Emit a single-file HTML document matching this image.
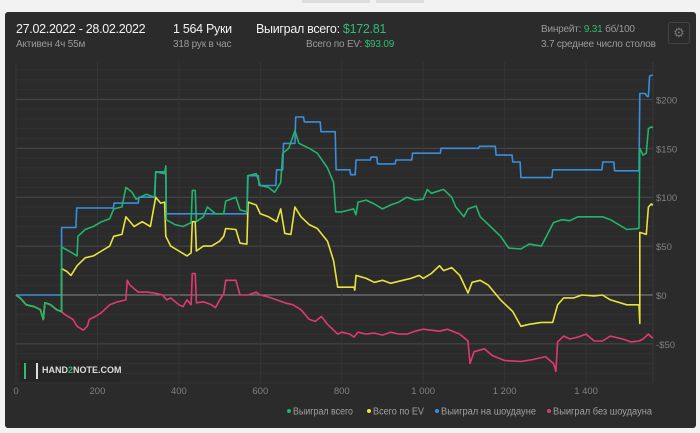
<!DOCTYPE html>
<html><head><meta charset="utf-8"><style>
body{margin:0;width:700px;height:433px;background:#f2f2f2;font-family:"Liberation Sans",sans-serif;overflow:hidden;position:relative}
.card{position:absolute;left:5px;top:12px;width:691px;height:416px;background:#2b2b2b;border-radius:3px}
.t{position:absolute;white-space:nowrap}
.w{color:#f2f2f2;font-size:12.5px;letter-spacing:-0.3px}
.g{color:#9a9a9a;font-size:10px;letter-spacing:-0.2px}
.gr{color:#2ebd75}
</style></head><body>
<div style="position:absolute;left:302px;top:0;width:68px;height:3px;background:#ddd"></div>
<div style="position:absolute;left:376px;top:0;width:48px;height:3px;background:#ddd"></div>
<div class="card"></div>
<div class="t w" style="left:16px;top:22px">27.02.2022 - 28.02.2022</div>
<div class="t g" style="left:16px;top:39px">Активен 4ч 55м</div>
<div class="t w" style="left:173px;top:22px">1 564 Руки</div>
<div class="t g" style="left:173px;top:39px">318 рук в час</div>
<div class="t w" style="left:256px;top:22px">Выиграл всего: <span class="gr">$172.81</span></div>
<div class="t g" style="left:306px;top:39px">Всего по EV: <span class="gr">$93.09</span></div>
<div class="t g" style="left:541px;top:24px">Винрейт: <span class="gr">9.31</span> бб/100</div>
<div class="t g" style="left:541px;top:39px">3.7 среднее число столов</div>
<div style="position:absolute;left:668px;top:22px;width:20px;height:20px;border:1px solid #444;border-radius:3px;color:#777;font-size:13px;text-align:center;line-height:20px">⚙</div>
<svg id="chart" width="700" height="433" style="position:absolute;left:0;top:0"></svg>
<div style="position:absolute;left:20px;top:360px;width:100px;height:22px;background:#262626;border-radius:2px">
<div style="position:absolute;left:4px;top:3px;width:14px;height:16px;border-left:2px solid #2ebd75;border-right:2px solid #ddd;box-sizing:border-box"></div>
<div class="t" style="left:22px;top:5px;color:#ddd;font-size:9px;font-weight:bold">HAND<span class="gr">2</span>NOTE.COM</div></div>
<script>
const xTicks=[0,200,400,600,800,1000,1200,1400];
const xTickLabels=["0","200","400","600","800","1 000","1 200","1 400"];
const yTicks=[-50,0,50,100,150,200];
const yTickLabels=["-$50","$0","$50","$100","$150","$200"];
const seriesNames=["Выиграл всего","Всего по EV","Выиграл на шоудауне","Выиграл без шоудауна"];
const seriesColors=["#22b46c","#e9e43c","#3a8fdc","#dd3b70"];
const blueHands=[0,112,112,147,149,239,241,300,302,341,343,368,369,567,569,595,597,638,640,655,657,685,687,706,708,747,749,784,786,820,822,833,835,870,872,886,888,931,933,972,974,1042,1044,1136,1138,1177,1179,1218,1220,1238,1240,1316,1318,1439,1441,1468,1470,1530,1532,1545,1550,1553,1556,1564];
const blueVals=[0,0,69,69,89,89,94,94,100,100,126,126,83,83,122,122,112,112,128,128,155,155,182,182,177,177,167,167,128,128,123,123,138,138,141,141,134,134,138,138,145,145,150,150,152,152,143,143,136,136,120,120,128,128,136,136,127,127,206,206,203,203,224,225];
const greenHands=[0,10,25,45,60,67,71,85,100,112,112,130,150,152,170,190,210,230,240,260,270,285,295,320,340,343,365,368,369,390,410,430,433,440,443,460,470,490,510,515,540,550,567,570,590,600,620,635,650,655,670,685,695,720,740,765,780,785,800,829,835,840,860,880,900,920,940,960,980,1000,1010,1020,1050,1070,1080,1100,1110,1130,1140,1160,1190,1210,1240,1260,1290,1320,1340,1360,1380,1420,1440,1460,1500,1530,1532,1540,1548,1553,1560,1564];
const greenVals=[0,-3,-10,-12,-15,-25,-8,-10,-15,-17,49,45,40,60,67,70,75,78,88,90,110,105,98,103,100,126,124,132,77,72,70,74,107,107,75,80,90,83,83,96,100,87,85,122,124,112,110,105,115,145,150,168,155,150,145,130,115,85,85,88,82,95,97,93,88,92,95,100,97,98,108,104,108,100,90,80,88,91,80,72,60,48,47,52,50,74,77,76,80,80,80,77,67,68,150,143,145,170,172,171];
const yellowHands=[0,10,25,45,60,67,71,85,100,112,112,125,135,150,170,190,210,230,240,260,270,290,310,330,343,355,365,368,380,400,420,430,433,440,443,460,480,500,510,515,540,550,567,570,590,600,620,640,650,660,675,685,700,720,740,765,780,790,830,832,835,860,880,900,920,950,970,990,1000,1020,1040,1050,1070,1090,1110,1120,1140,1160,1190,1220,1240,1260,1290,1318,1330,1345,1370,1390,1420,1440,1460,1500,1530,1532,1532,1540,1548,1553,1560,1564];
const yellowVals=[0,-3,-10,-12,-15,-25,-8,-10,-15,-17,27,24,20,30,38,40,45,50,60,62,80,70,75,70,100,94,95,60,50,45,40,43,75,75,45,50,50,55,60,68,67,53,52,95,92,83,80,75,88,63,62,90,80,72,68,55,35,8,8,5,20,17,13,15,12,15,17,20,17,22,30,25,28,20,2,13,15,10,-5,-17,-32,-30,-28,-28,-10,-3,-3,0,-1,0,-5,-10,-10,-29,64,63,62,90,93,92];
const pinkHands=[0,10,25,45,60,67,71,85,100,112,120,140,150,165,175,180,195,210,230,250,270,273,280,300,320,340,360,370,380,400,410,420,430,433,440,443,460,480,490,500,510,515,540,550,570,590,600,620,640,660,680,700,720,735,750,765,790,800,820,830,840,860,880,900,920,940,960,980,1000,1040,1060,1090,1110,1115,1125,1150,1170,1200,1240,1270,1300,1320,1326,1330,1345,1360,1380,1400,1420,1440,1460,1490,1510,1530,1540,1553,1560,1564];
const pinkVals=[0,-3,-10,-12,-15,-25,-8,-10,-15,-17,-20,-25,-32,-36,-32,-25,-22,-18,-10,-7,-5,15,10,3,3,2,0,-5,-3,-10,-12,-5,-10,22,22,-8,-7,-10,-13,-5,1,15,15,0,0,3,0,-2,-5,-8,-10,-15,-25,-27,-22,-30,-40,-38,-40,-43,-38,-40,-39,-41,-38,-40,-40,-37,-35,-37,-35,-40,-47,-70,-58,-55,-62,-67,-68,-66,-63,-70,-78,-48,-42,-45,-43,-40,-47,-47,-42,-45,-48,-47,-45,-40,-43,-44];

const svg=document.getElementById('chart');
const NS='http://www.w3.org/2000/svg';
const X0=16,X1=653,Y0=62,Y1=383;
function xs(h){return X0+h*0.4072;}
function ys(v){return 295-v*0.978;}
function mk(tag,attrs){const e=document.createElementNS(NS,tag);for(const k in attrs)e.setAttribute(k,attrs[k]);svg.appendChild(e);return e;}
for(let v=-90;v<=230;v+=10){
  const major=v%50===0;
  const l=mk('line',{x1:X0,x2:X1,y1:ys(v),y2:ys(v),stroke:major?(v===0?'#8a8a8a':'#4a4a4a'):'#323232','stroke-width':1});
  
  
}
xTicks.forEach((t,i)=>{
  const l=mk('line',{x1:xs(t),x2:xs(t),y1:Y0,y2:Y1,stroke:'#363636','stroke-width':1});
  
  
  const tx=mk('text',{x:xs(t),y:394,fill:'#808080','font-size':9.5,'text-anchor':'middle','font-family':'Liberation Sans, sans-serif'});
  tx.textContent=xTickLabels[i];
  
  
});
const rl=mk('line',{x1:X1,x2:X1,y1:Y0,y2:Y1,stroke:'#3a3a3a'});


yTicks.forEach((t,i)=>{
  const tx=mk('text',{x:656,y:ys(t)+4,fill:'#808080','font-size':9.5,'font-family':'Liberation Sans, sans-serif'});
  tx.textContent=yTickLabels[i];
  
  
});
function line(hands,vals,color,name){
  const pts=hands.map((h,i)=>xs(h).toFixed(1)+','+ys(vals[i]).toFixed(1)).join(' ');
  const p=mk('polyline',{points:pts,fill:'none',stroke:color,'stroke-width':1.6,'stroke-linejoin':'round'});
  
  
}
line(pinkHands,pinkVals,seriesColors[3],'series-no-showdown-line');
line(blueHands,blueVals,seriesColors[2],'series-showdown-line');
line(yellowHands,yellowVals,seriesColors[1],'series-ev-line');
line(greenHands,greenVals,seriesColors[0],'series-total-line');
const legX=[289,369,437,549];
const legW=[60,51,95,99];
seriesNames.forEach((n,i)=>{
  const c=mk('circle',{cx:legX[i],cy:411,r:2,fill:seriesColors[i]});
  
  
  const t=mk('text',{x:legX[i]+4,y:414.5,fill:'#a0a0a0','font-size':10,'font-family':'Liberation Sans, sans-serif',textLength:legW[i],lengthAdjust:'spacingAndGlyphs'});
  t.textContent=n;
  
  
});
</script>
</body></html>
